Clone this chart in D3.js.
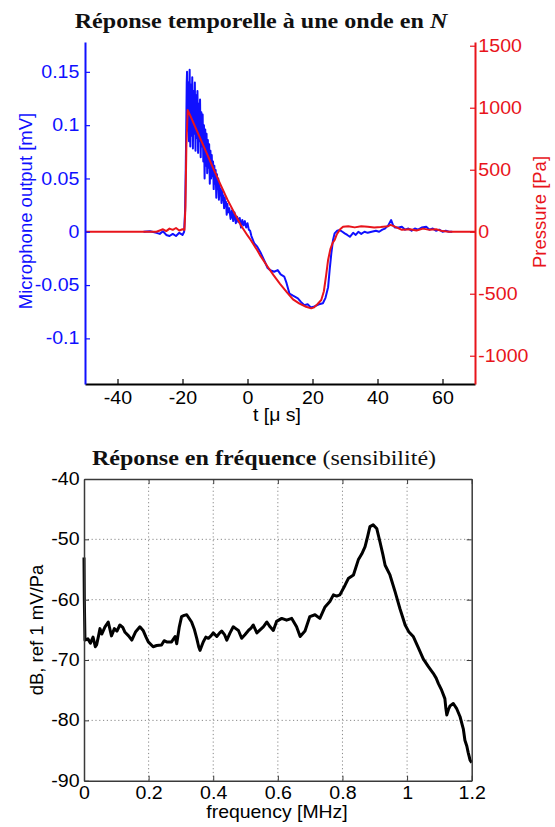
<!DOCTYPE html>
<html>
<head>
<meta charset="utf-8">
<script src="https://cdn.jsdelivr.net/npm/d3@7"></script>
<style>
  body { margin: 0; background: #fff; }
  svg { display: block; }
</style>
</head>
<body>
<div id="chart"></div>
<script>
// microphone output [mV] vs time [µs]
const micSignal = [
  [-32,0],[-30,0.0005],[-28,-0.001],[-27,-0.002],[-26,0.0005],[-25,-0.003],[-24,-0.004],[-23,-0.002],
  [-22,-0.004],[-21,-0.001],[-20,-0.003],[-19.5,0],[-19.2,0.02],[-19.0,0.06],[-18.8,0.11],[-18.7,0.14],
  [-18.6,0.150],[-18.4,0.095],[-18.2,0.140],[-18.0,0.085],[-17.8,0.152],[-17.6,0.080],[-17.4,0.138],
  [-17.2,0.090],[-17.0,0.145],[-16.8,0.078],[-16.6,0.132],[-16.4,0.092],[-16.2,0.140],[-16.0,0.076],
  [-15.8,0.128],[-15.6,0.088],[-15.4,0.132],[-15.2,0.074],[-15.0,0.120],[-14.8,0.085],[-14.6,0.124],
  [-14.4,0.070],[-14.2,0.112],[-14.0,0.080],[-13.8,0.110],[-13.6,0.066],[-13.4,0.100],[-13.2,0.050],
  [-13.0,0.096],[-12.8,0.062],[-12.6,0.092],[-12.4,0.055],[-12.2,0.086],[-12.0,0.060],[-11.8,0.082],
  [-11.6,0.045],[-11.4,0.076],[-11.2,0.050],[-11.0,0.072],[-10.8,0.052],[-10.6,0.066],[-10.4,0.040],
  [-10.2,0.062],[-10.0,0.045],[-9.8,0.058],[-9.6,0.032],[-9.4,0.054],[-9.2,0.040],[-9.0,0.050],
  [-8.8,0.030],[-8.6,0.044],[-8.4,0.034],[-8.2,0.040],[-8.0,0.027],[-7.8,0.038],[-7.6,0.030],
  [-7.4,0.034],[-7.2,0.022],[-7.0,0.032],[-6.8,0.024],[-6.6,0.028],[-6.4,0.016],[-6.2,0.026],
  [-6.0,0.018],[-5.6,0.022],[-5.2,0.012],[-4.8,0.020],[-4.4,0.010],[-4.0,0.018],[-3.6,0.008],
  [-3.2,0.014],[-2.8,0.009],[-2.4,0.013],[-2.0,0.004],[-1.6,0.011],[-1.2,0.006],[-0.8,0.010],
  [-0.4,0.004],[0,0.008],[0.4,0.002],[0.8,0.001],[1.2,-0.004],[2.1,-0.011],[3.0,-0.014],[4.1,-0.020],
  [5.0,-0.026],[6.2,-0.034],[7.0,-0.036],[8.2,-0.0375],[9.3,-0.036],[10.2,-0.040],[11.3,-0.042],
  [12.0,-0.048],[12.9,-0.058],[14.0,-0.060],[15.5,-0.0625],[16.5,-0.066],[17.5,-0.069],[18.5,-0.068],
  [19.5,-0.071],[20.6,-0.070],[22.0,-0.068],[23.2,-0.067],[24.0,-0.062],[24.8,-0.052],[25.3,-0.035],
  [25.8,-0.020],[26.3,-0.008],[26.8,-0.0015],[27.6,0.001],[28.4,0.0016],[29.2,0],[29.9,-0.0015],
  [30.7,-0.003],[31.5,-0.0047],[32.5,-0.001],[33.3,-0.003],[34.1,0],[35,-0.002],[36,0],[37,-0.001],
  [38.2,0],[39.5,0.001],[40.5,0],[41.5,0.002],[42.3,0.003],[43.3,0.006],[44.2,0.011],[44.8,0.006],
  [45.4,0.004],[46.5,0.004],[47.5,0.0047],[48.5,0.002],[49.5,0.003],[50.5,0.001],[51.5,0.003],
  [52.5,0.002],[53.6,0.004],[55,0.0047],[56,0.002],[57,0.003],[58,0.001],[59,0.002],[60,0],[61,0.001],
  [62,0],[63,0]
];

// reference pressure [Pa] vs time [µs]
const pressure = [
  [-50,0],[-28,0],[-27,10],[-26,20],[-25,5],[-24,25],[-23,15],[-22,30],[-21,10],[-20,20],[-19.4,15],
  [-19.1,200],[-18.8,700],[-18.4,981],[-17.5,930],[-16,840],[-14,720],[-12,600],[-10.3,497],[-8.3,380],
  [-6.2,260],[-4,150],[-2,50],[0,-30],[1,-67],[3,-150],[4,-195],[6.2,-282],[8,-350],[10,-420],
  [12.4,-497],[14,-545],[16,-580],[18,-605],[19.6,-618],[20.5,-610],[21.5,-585],[22.7,-551],[23.5,-480],
  [24.2,-350],[24.8,-228],[25.5,-140],[26.2,-90],[26.8,-67],[27.5,-20],[28.5,20],[29.4,40],[31,45],
  [33,35],[35,45],[37,40],[39,35],[41,38],[43.3,45],[44,55],[45,45],[47.5,15],[50,20],[52,10],[54,25],
  [56,15],[58,20],[60,5],[62,0],[70,0]
];

// sensitivity [dB ref 1 mV/Pa] vs frequency [MHz]
const sensitivity = [
  [0,-53],[0.001,-60],[0.003,-66.7],[0.012,-66.5],[0.02,-67.2],[0.028,-66.2],[0.035,-67.8],[0.039,-67.5],
  [0.045,-66],[0.0495,-64.8],[0.055,-65.7],[0.065,-64.5],[0.075,-63.7],[0.085,-66],[0.094,-64.8],
  [0.102,-65.2],[0.111,-64.2],[0.12,-64.6],[0.127,-65.4],[0.138,-66],[0.148,-66.7],[0.16,-65.3],
  [0.173,-64.5],[0.183,-65.1],[0.192,-66.2],[0.199,-67],[0.214,-67.8],[0.225,-67.6],[0.24,-67.5],
  [0.248,-66.8],[0.256,-67],[0.271,-67],[0.282,-66.1],[0.287,-67.3],[0.295,-64.5],[0.302,-62.8],
  [0.31,-62.6],[0.318,-62.5],[0.333,-63.7],[0.342,-65],[0.349,-66.4],[0.355,-67.8],[0.359,-68.4],
  [0.369,-67],[0.377,-66.2],[0.385,-66.4],[0.393,-66],[0.4,-65.5],[0.411,-66.1],[0.42,-65.5],
  [0.426,-65.2],[0.435,-65.8],[0.442,-66.7],[0.452,-65.5],[0.462,-64.5],[0.47,-64.8],[0.478,-65.1],
  [0.488,-66.4],[0.498,-65.8],[0.509,-65.1],[0.517,-64.7],[0.524,-64.2],[0.535,-65.5],[0.545,-65],
  [0.555,-64.5],[0.566,-63.7],[0.576,-64.5],[0.586,-65.1],[0.596,-63.6],[0.612,-63.1],[0.627,-63.4],
  [0.643,-63.1],[0.658,-64.5],[0.669,-66.1],[0.684,-65.2],[0.699,-62.8],[0.715,-62.5],[0.73,-63.1],
  [0.746,-61.2],[0.761,-60.3],[0.772,-59.2],[0.782,-59.4],[0.792,-59.2],[0.808,-57.6],[0.818,-56.5],
  [0.834,-55.9],[0.849,-53.4],[0.86,-52.4],[0.87,-51.2],[0.878,-49.5],[0.885,-47.9],[0.895,-47.6],
  [0.906,-48.2],[0.916,-50.4],[0.925,-52.5],[0.932,-54.3],[0.947,-55.9],[0.963,-58.7],[0.978,-61.5],
  [0.994,-64.2],[1.005,-65.3],[1.019,-66.1],[1.035,-68],[1.05,-69.8],[1.066,-71.1],[1.081,-72.2],
  [1.09,-73],[1.097,-73.9],[1.107,-75],[1.117,-76.4],[1.12,-78],[1.123,-79.1],[1.128,-78.2],
  [1.133,-77.6],[1.143,-77.2],[1.153,-78],[1.164,-79.4],[1.174,-81.4],[1.179,-83.3],[1.185,-84.3],
  [1.189,-85.3],[1.195,-86.6],[1.2,-87]
];

// tick values
const timeTicks = [-40, -20, 0, 20, 40, 60];
const micTicks = [-0.1, -0.05, 0, 0.05, 0.1, 0.15];
const paTicks = [-1000, -500, 0, 500, 1000, 1500];
const freqTicks = [0, 0.2, 0.4, 0.6, 0.8, 1, 1.2];
const dbTicks = [-90, -80, -70, -60, -50, -40];

const w = 555, h = 827;
const blue = "#1010ff", red = "#e8141b";
const sans = "'Liberation Sans', Arial, sans-serif";
const serif = "'Liberation Serif', 'Times New Roman', serif";
const stretch = "scale(1.12,1)";
const plain = d => String(d);   // matlab style: hyphen minus, no thousands comma

const svg = d3.select("#chart").append("svg")
  .attr("width", w).attr("height", h);

// ---------- top: time response ----------
const x1 = d3.scaleLinear().domain([-50, 70]).range([85, 475]);
const yMic = d3.scaleLinear().domain([-0.1428, 0.178]).range([384, 42]);
const yPa = d3.scaleLinear().domain([-1228, 1530]).range([384, 42]);

svg.append("path")
  .datum(micSignal)
  .attr("fill", "none")
  .attr("stroke", blue)
  .attr("stroke-width", 2)
  .attr("stroke-linejoin", "round")
  .attr("d", d3.line().x(d => x1(d[0])).y(d => yMic(d[1])));

svg.append("path")
  .datum(pressure)
  .attr("fill", "none")
  .attr("stroke", red)
  .attr("stroke-width", 2)
  .attr("stroke-linejoin", "round")
  .attr("d", d3.line().x(d => x1(d[0])).y(d => yPa(d[1])));

function styleAxis(g, color, width) {
  g.select(".domain").attr("stroke", color).attr("stroke-width", width);
  g.selectAll(".tick line").attr("stroke", color).attr("stroke-width", 1.2);
  g.selectAll(".tick text")
    .attr("fill", color)
    .attr("transform", stretch)
    .style("font-family", sans)
    .style("font-size", "17.5px");
}

svg.append("g")
  .attr("transform", "translate(0,384)")
  .call(d3.axisBottom(x1).tickValues(timeTicks).tickFormat(plain).tickSizeInner(-5).tickSizeOuter(0).tickPadding(8))
  .call(g => styleAxis(g, "#000", 2));

svg.append("g")
  .attr("transform", "translate(85,0)")
  .call(d3.axisLeft(yMic).tickValues(micTicks).tickFormat(plain).tickSizeInner(-5).tickSizeOuter(0).tickPadding(5))
  .call(g => styleAxis(g, blue, 2));

svg.append("g")
  .attr("transform", "translate(475,0)")
  .call(d3.axisRight(yPa).tickValues(paTicks).tickFormat(plain).tickSizeInner(-5).tickSizeOuter(0).tickPadding(3))
  .call(g => styleAxis(g, red, 2));

const title1 = svg.append("text")
  .attr("transform", "translate(261,28) scale(1.12,1)")
  .attr("text-anchor", "middle")
  .style("font-family", serif)
  .style("font-size", "21.5px")
  .style("font-weight", "bold")
  .attr("fill", "#111");
title1.append("tspan").text("Réponse temporelle à une onde en ");
title1.append("tspan").style("font-style", "italic").text("N");

svg.append("text")
  .attr("transform", "translate(277,421) scale(1.08,1)")
  .attr("text-anchor", "middle")
  .style("font-family", sans)
  .style("font-size", "18px")
  .text("t [μ s]");

svg.append("text")
  .attr("transform", "translate(32,211) rotate(-90)")
  .attr("text-anchor", "middle")
  .attr("fill", blue)
  .style("font-family", sans)
  .style("font-size", "18.5px")
  .text("Microphone output [mV]");

svg.append("text")
  .attr("transform", "translate(546,212) rotate(-90)")
  .attr("text-anchor", "middle")
  .attr("fill", red)
  .style("font-family", sans)
  .style("font-size", "18.5px")
  .text("Pressure [Pa]");

// ---------- bottom: frequency response ----------
const x2 = d3.scaleLinear().domain([0, 1.2]).range([84, 471.7]);
const y2 = d3.scaleLinear().domain([-90, -40]).range([780.7, 479]);

// dotted grid
svg.append("g").selectAll("line")
  .data(freqTicks.slice(1, -1))
  .join("line")
  .attr("x1", d => x2(d)).attr("x2", d => x2(d))
  .attr("y1", y2(-90)).attr("y2", y2(-40))
  .attr("stroke", "#888").attr("stroke-width", 1).attr("stroke-dasharray", "1.2,2.6");
svg.append("g").selectAll("line")
  .data(dbTicks.slice(1, -1))
  .join("line")
  .attr("x1", x2(0)).attr("x2", x2(1.2))
  .attr("y1", d => y2(d)).attr("y2", d => y2(d))
  .attr("stroke", "#888").attr("stroke-width", 1).attr("stroke-dasharray", "1.2,2.6");

svg.append("path")
  .datum(sensitivity)
  .attr("fill", "none")
  .attr("stroke", "#000")
  .attr("stroke-width", 3)
  .attr("stroke-linejoin", "round")
  .attr("d", d3.line().x(d => x2(d[0])).y(d => y2(d[1])));

const boxColor = "#3a3a3a";
function styleBox(g) {
  g.select(".domain").attr("stroke", boxColor).attr("stroke-width", 1.5);
  g.selectAll(".tick line").attr("stroke", boxColor);
  g.selectAll(".tick text")
    .attr("fill", "#000")
    .attr("transform", stretch)
    .style("font-family", sans)
    .style("font-size", "17.5px");
}

svg.append("g")
  .attr("transform", "translate(0,780.7)")
  .call(d3.axisBottom(x2).tickValues(freqTicks).tickFormat(plain).tickSizeInner(-5).tickSizeOuter(0).tickPadding(6))
  .call(styleBox);
svg.append("g")
  .attr("transform", "translate(84,0)")
  .call(d3.axisLeft(y2).tickValues(dbTicks).tickFormat(plain).tickSizeInner(-5).tickSizeOuter(0).tickPadding(4))
  .call(styleBox);
svg.append("g")
  .attr("transform", "translate(0,479)")
  .call(d3.axisTop(x2).tickValues(freqTicks).tickSizeInner(-5).tickSizeOuter(0).tickFormat(""))
  .call(styleBox);
svg.append("g")
  .attr("transform", "translate(471.7,0)")
  .call(d3.axisRight(y2).tickValues(dbTicks).tickSizeInner(-5).tickSizeOuter(0).tickFormat(""))
  .call(styleBox);

const title2 = svg.append("text")
  .attr("transform", "translate(264,465) scale(1.12,1)")
  .attr("text-anchor", "middle")
  .style("font-family", serif)
  .style("font-size", "21.5px")
  .attr("fill", "#111");
title2.append("tspan").style("font-weight", "bold").text("Réponse en fréquence");
title2.append("tspan").text(" (sensibilité)");

svg.append("text")
  .attr("transform", "translate(277,818) scale(1.08,1)")
  .attr("text-anchor", "middle")
  .style("font-family", sans)
  .style("font-size", "18px")
  .text("frequency [MHz]");

svg.append("text")
  .attr("transform", "translate(43,630) rotate(-90)")
  .attr("text-anchor", "middle")
  .style("font-family", sans)
  .style("font-size", "18.5px")
  .text("dB, ref 1 mV/Pa");
</script>
</body>
</html>
